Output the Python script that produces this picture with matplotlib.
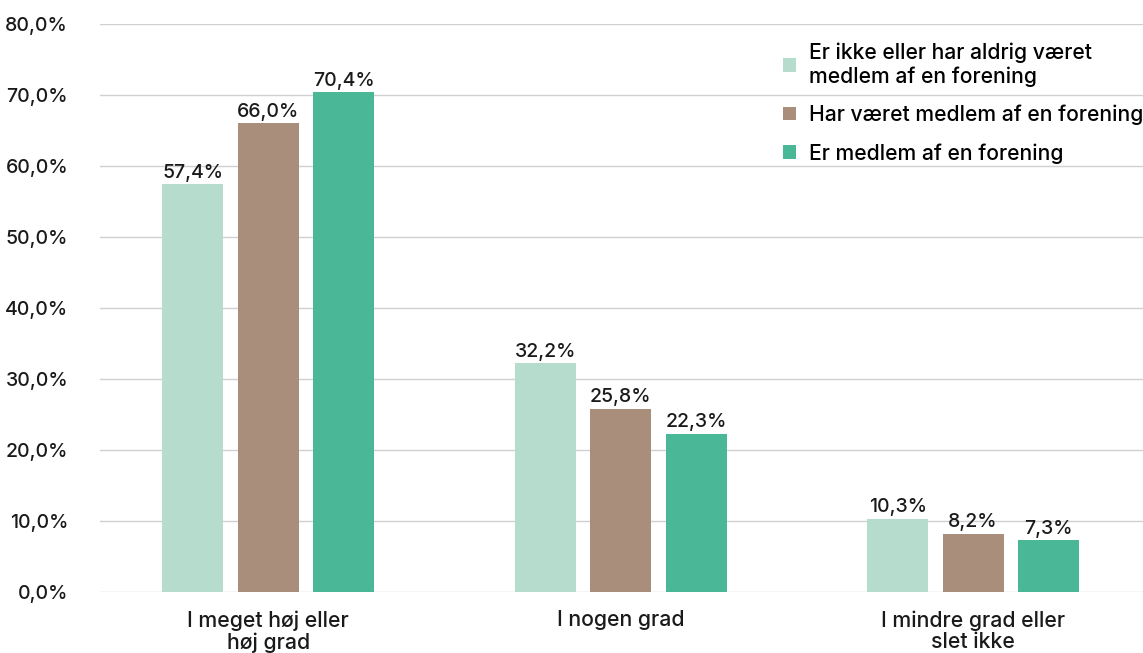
import matplotlib
matplotlib.use("Agg")
import matplotlib.pyplot as plt
import numpy as np

categories = ["I meget høj eller\nhøj grad", "I nogen grad", "I mindre grad eller\nslet ikke"]
series_names = ["Er ikke eller har aldrig været\nmedlem af en forening",
                "Har været medlem af en forening",
                "Er medlem af en forening"]
never = [57.4, 32.2, 10.3]
former = [66.0, 25.8, 8.2]
member = [70.4, 22.3, 7.3]
colors = ["#b5dccd", "#a98e7c", "#4ab797"]
yticks = [0, 10, 20, 30, 40, 50, 60, 70, 80]

plt.rcParams['font.family'] = ['Inter', 'DejaVu Sans']
plt.rcParams['font.weight'] = 'medium'

W, H = 1143, 653
fig = plt.figure(figsize=(W/100, H/100), dpi=100)
ax = fig.add_axes([100/W, 1-592/H, (1143-100)/W, (592-24)/H])

x = np.arange(len(categories))
bw = 0.173
off = 0.214
for i, (vals, name, c) in enumerate(zip([never, former, member], series_names, colors)):
    pos = x + (i-1)*off
    ax.bar(pos, vals, width=bw, color=c, label=name, zorder=3)
    for p, v in zip(pos, vals):
        ax.text(p, v + 0.35, f"{v:.1f}%".replace(".", ","), ha="center", va="bottom",
                fontsize=14, color="#1a1a1a", zorder=4)

ax.set_ylim(0, 80)
ax.set_xlim(-0.477, 2.482)
ax.set_yticks(yticks)
ax.set_yticklabels([f"{v:.1f}%".replace(".", ",") for v in yticks], fontsize=14, color="#1a1a1a")
ax.set_xticks(x)
ax.set_xticklabels(categories, fontsize=15.3, color="#1a1a1a", linespacing=1.1)
ax.tick_params(axis="both", length=0)
ax.tick_params(axis="y", pad=23)
ax.tick_params(axis="x", pad=13)
ax.grid(axis="y", color="#d0d0d0", linewidth=1, zorder=0)
for s in ax.spines.values():
    s.set_visible(False)

leg = ax.legend(loc="upper left", bbox_to_anchor=(675/1043, 1-10/568), frameon=False,
                fontsize=15.2, handlelength=0.6, handleheight=0.6, handletextpad=0.6,
                labelspacing=0.85, borderaxespad=0)

fig.savefig("out.png", dpi=100)
